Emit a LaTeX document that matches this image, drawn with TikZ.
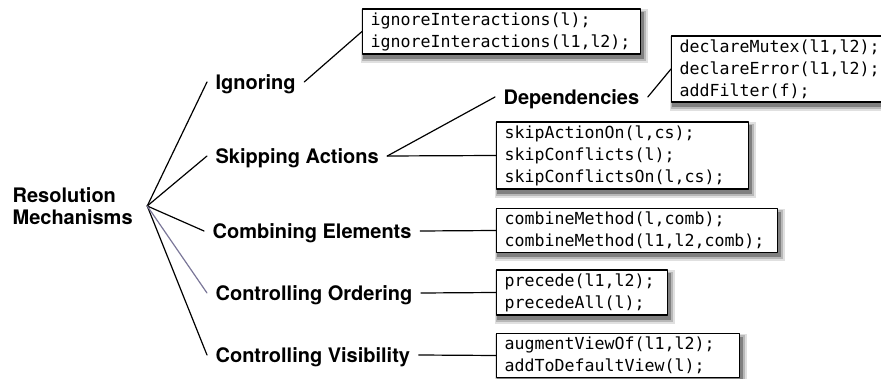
\documentclass[tikz,border=0pt]{standalone}
\usepackage{fontspec}
\newfontfamily\headfont{TeX Gyre Heros}
\newfontfamily\codefont{DejaVu Sans Mono}
\usetikzlibrary{positioning,backgrounds}
\definecolor{ordline}{RGB}{122,118,152}
\begin{document}
\begin{tikzpicture}[x=1pt,y=-1pt,line width=1.2pt,line cap=round,line join=round,
  head/.style={font=\headfont\bfseries\fontsize{20}{22}\selectfont,anchor=west,
    inner xsep=8pt,inner ysep=0pt,text height=14.3pt,text depth=0pt},
  code/.style={draw,line width=1.3pt,fill=white,anchor=west,align=left,
    inner xsep=8pt,inner ysep=3.5pt,font=\codefont\fontsize{16.6}{22}\selectfont}]
  \useasboundingbox (0,0) rectangle (881,379);
  \node[font=\headfont\bfseries\fontsize{20}{22}\selectfont,align=left,anchor=west,
    inner sep=2pt] (res) at (10,206) {Resolution\\Mechanisms};
  \coordinate[right=12pt of res.east] (hub);
  \node[head] (ign) at (207,82) {Ignoring};
  \node[head] (skip) at (207,156) {Skipping Actions};
  \node[head] (dep) at (495,97) {Dependencies};
  \node[head] (comb) at (204,231) {Combining Elements};
  \node[head] (ord) at (207,293) {Controlling Ordering};
  \node[head] (vis) at (207,355) {Controlling Visibility};
  \node[code,text width=262pt] (ignbox) at (362,31.5)
    {ignoreInteractions(l);\\ignoreInteractions(l1,l2);};
  \node[code,text width=204pt] (depbox) at (671,69)
    {declareMutex(l1,l2);\\declareError(l1,l2);\\addFilter(f);};
  \node[code,text width=236pt] (skipbox) at (496,155.5)
    {skipActionOn(l,cs);\\skipConflicts(l);\\skipConflictsOn(l,cs);};
  \node[code,text width=265pt] (combbox) at (496,230.5)
    {combineMethod(l,comb);\\combineMethod(l1,l2,comb);};
  \node[code,text width=155pt] (ordbox) at (496,292.5)
    {precede(l1,l2);\\precedeAll(l);};
  \node[code,text width=227pt] (visbox) at (496,355.5)
    {augmentViewOf(l1,l2);\\addToDefaultView(l);};
  % soft shadows under the boxes
  \begin{scope}[on background layer]
    \foreach \b in {ignbox,depbox,skipbox,combbox,ordbox,visbox}{
      \fill[black!12] ([shift={(-1pt,-8pt)}]\b.south west)
        rectangle ([shift={(6.5pt,-1pt)}]\b.north east);
      \fill[black!28] ([shift={(0pt,-6pt)}]\b.south west)
        rectangle ([shift={(4.5pt,-2.5pt)}]\b.north east);
      \fill[black!50] ([shift={(1pt,-4pt)}]\b.south west)
        rectangle ([shift={(3pt,-4pt)}]\b.north east);
    }
  \end{scope}
  % branches
  \foreach \n in {ign,skip,comb,vis}
    \draw (hub)--(\n.west);
  \draw[ordline] (hub)--(ord.west);
  \draw (ign.east)--(ignbox.west);
  \draw (skip.east)--(dep.west);
  \draw (skip.east)--(skipbox.west);
  \draw (dep.east)--(depbox.west);
  \draw (comb.east)--(combbox.west);
  \draw (ord.east)--(ordbox.west);
  \draw (vis.east)--(visbox.west);
\end{tikzpicture}
\end{document}
